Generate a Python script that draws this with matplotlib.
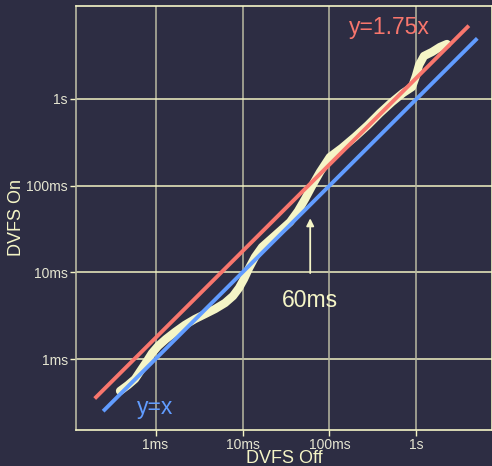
import matplotlib
matplotlib.use("Agg")
import matplotlib.pyplot as plt
from matplotlib.ticker import FixedLocator, FixedFormatter, NullLocator

# QQ data (seconds): DVFS Off quantiles vs DVFS On quantiles
dvfs_off = [0.000391, 0.000483, 0.000581, 0.000681, 0.000798, 0.000912, 0.00107, 0.00132,
            0.00168, 0.00218, 0.00284, 0.00371, 0.00483, 0.00630, 0.00778, 0.00912,
            0.0104, 0.0119, 0.0139, 0.0168, 0.0207, 0.0270, 0.0352, 0.0435, 0.0523,
            0.0629, 0.0778, 0.101, 0.139, 0.196, 0.277, 0.380, 0.522, 0.700, 0.887,
            0.986, 1.07, 1.22, 1.51, 1.86, 2.24]
dvfs_on = [0.000428, 0.000501, 0.000588, 0.000747, 0.000948, 0.00117, 0.00141, 0.00170,
           0.00205, 0.00247, 0.00289, 0.00330, 0.00377, 0.00443, 0.00533, 0.00660,
           0.00838, 0.0112, 0.0150, 0.0196, 0.0236, 0.0299, 0.0380, 0.0509, 0.0700,
           0.0989, 0.1435, 0.214, 0.272, 0.364, 0.500, 0.687, 0.920, 1.17, 1.37,
           1.84, 2.46, 3.13, 3.48, 3.97, 4.30]

ref_red_x = [0.0002, 4.0]
ref_red_slope = 1.75
ref_blue_x = [0.00025, 5.0]

tick_vals = [0.001, 0.01, 0.1, 1.0]
tick_labels = ["1ms", "10ms", "100ms", "1s"]

BG = "#2d2d43"
PALE = "#f5f5c6"
GRID_H = "#f2f2c2"
GRID_V = "#b9b9a2"
RED = "#f8766d"
BLUE = "#619cff"
TICKC = "#e6e6d2"

plt.rcParams['font.family'] = ['Liberation Sans', 'DejaVu Sans']

fig = plt.figure(figsize=(4.92, 4.66), dpi=100, facecolor=BG)
ax = fig.add_axes([76/492, 36/466, 416/492, 424/466], facecolor=BG)
ax.set_xscale('log')
ax.set_yscale('log')
ax.set_xlim(10**-3.914, 10**0.868)
ax.set_ylim(10**-3.819, 10**1.072)

for v in tick_vals:
    ax.axvline(v, color=GRID_V, lw=1.1, zorder=0)
    ax.axhline(v, color=GRID_H, lw=1.1, zorder=0)

ax.xaxis.set_major_locator(FixedLocator(tick_vals))
ax.xaxis.set_major_formatter(FixedFormatter(tick_labels))
ax.yaxis.set_major_locator(FixedLocator(tick_vals))
ax.yaxis.set_major_formatter(FixedFormatter(tick_labels))
ax.xaxis.set_minor_locator(NullLocator())
ax.yaxis.set_minor_locator(NullLocator())
ax.tick_params(axis='both', colors=PALE, labelcolor=TICKC, labelsize=10, length=4, width=1, pad=2)

for s in ['left', 'bottom', 'top', 'right']:
    ax.spines[s].set_color(PALE)
    ax.spines[s].set_linewidth(1.2)
ax.spines['left'].set_color(GRID_V)

# reference lines
ax.plot(ref_red_x, [ref_red_slope * v for v in ref_red_x], color=RED, lw=2.8,
        solid_capstyle='butt', zorder=3)
ax.plot(ref_blue_x, ref_blue_x, color=BLUE, lw=2.8, solid_capstyle='butt', zorder=3)

# QQ points (dense quantile points form a thick band)
ax.plot(dvfs_off, dvfs_on, color=PALE, lw=6.0, solid_capstyle='round',
        solid_joinstyle='round', zorder=2)

ax.text(0.483, 6.6, "y=1.75x", color=RED, fontsize=16.5, ha='center', va='center')
ax.text(0.00099, 0.000279, "y=x", color=BLUE, fontsize=16.5, ha='center', va='center')
ax.text(0.0597, 0.00478, "60ms", color=PALE, fontsize=16.5, ha='center', va='center')
ax.annotate('', xy=(0.06, 0.042), xytext=(0.06, 0.0098),
            arrowprops=dict(arrowstyle='-|>', color=PALE, lw=1.3, mutation_scale=11,
                            shrinkA=0, shrinkB=0))

ax.set_xlabel("DVFS Off", color=PALE, fontsize=13, labelpad=-2)
ax.set_ylabel("DVFS On", color=PALE, fontsize=13, labelpad=1)

fig.savefig("out.png", dpi=100, facecolor=BG)
